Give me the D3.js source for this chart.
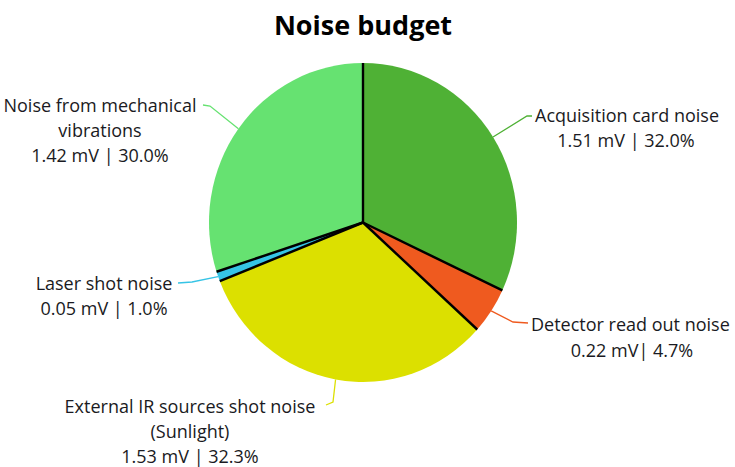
<!DOCTYPE html>
<html>
<head>
<meta charset="utf-8">
<script src="https://cdn.jsdelivr.net/npm/d3@7"></script>
<style>
  body { margin: 0; background: #fff; }
  text { font-family: "Open Sans", "Noto Sans", sans-serif; fill: #1a1a22; }
</style>
</head>
<body>
<div class="chart"></div>
<script>
// data
var names = ["Acquisition card noise", "Detector read out noise", "External IR sources shot noise", "Laser shot noise", "Noise from mechanical vibrations"];
var volts = ["1.51 mV", "0.22 mV", "1.53 mV", "0.05 mV", "1.42 mV"];
var shares = [32.0, 4.7, 32.3, 1.0, 30.0];
var colors = ["#4fb135", "#ef5a1f", "#dce000", "#36c4e6", "#66e271"];

var width = 735, height = 467;
var cx = 363, cy = 222.5, r = 154, squash = 159.5 / 154;

var svg = d3.select(".chart")
  .append("svg")
    .attr("width", width)
    .attr("height", height);

svg.append("text")
    .attr("x", cx)
    .attr("y", 35)
    .attr("text-anchor", "middle")
    .style("font-size", "27px")
    .style("font-weight", "bold")
    .style("fill", "#000")
    .text("Noise budget");

var pie = d3.pie().sort(null).value(function(d) { return d; });
var arcs = pie(shares);
var arc = d3.arc().innerRadius(0).outerRadius(r);

var g = svg.append("g")
    .attr("transform", "translate(" + cx + "," + cy + ") scale(1," + squash + ")");

g.selectAll("path.slice")
  .data(arcs)
  .enter().append("path")
    .attr("class", "slice")
    .attr("fill", function(d, i) { return colors[i]; })
    .attr("d", arc);

// black radial edges between slices
g.selectAll("line.edge")
  .data(arcs)
  .enter().append("line")
    .attr("class", "edge")
    .attr("x1", 0).attr("y1", 0)
    .attr("x2", function(d) { return r * Math.sin(d.startAngle); })
    .attr("y2", function(d) { return -r * Math.cos(d.startAngle); })
    .attr("stroke", "#000")
    .attr("stroke-width", 2.4);

// label layout: leader elbows and text blocks
var layout = [
  {elbow: [[527, 116], [532, 116]], lines: [["Acquisition card noise", 535, 122, "start"], ["1.51 mV | 32.0%", 626, 147, "middle"]]},
  {elbow: [[513, 322], [528, 323]], lines: [["Detector read out noise", 531, 331, "start"], ["0.22 mV| 4.7%", 632, 357, "middle"]]},
  {elbow: [[333, 402], [326, 405]], lines: [["External IR sources shot noise", 190, 413, "middle"], ["(Sunlight)", 190, 438, "middle"], ["1.53 mV | 32.3%", 190, 463, "middle"]]},
  {elbow: [[192, 282], [178, 283]], lines: [["Laser shot noise", 104, 290, "middle"], ["0.05 mV | 1.0%", 104, 315, "middle"]]},
  {elbow: [[210, 106], [203, 105]], lines: [["Noise from mechanical", 100, 112, "middle"], ["vibrations", 100, 137, "middle"], ["1.42 mV | 30.0%", 100, 162, "middle"]]}
];

arcs.forEach(function(d, i) {
  var a = (d.startAngle + d.endAngle) / 2;
  var p0 = [cx + r * Math.sin(a), cy - r * squash * Math.cos(a)];
  var pts = [p0].concat(layout[i].elbow);
  svg.append("path")
      .attr("d", d3.line()(pts))
      .attr("fill", "none")
      .attr("stroke", colors[i])
      .attr("stroke-width", 1.3);

  layout[i].lines.forEach(function(l) {
    svg.append("text")
        .attr("x", l[1])
        .attr("y", l[2])
        .attr("text-anchor", l[3])
        .style("font-size", "18px")
        .text(l[0]);
  });
});
</script>
</body>
</html>
